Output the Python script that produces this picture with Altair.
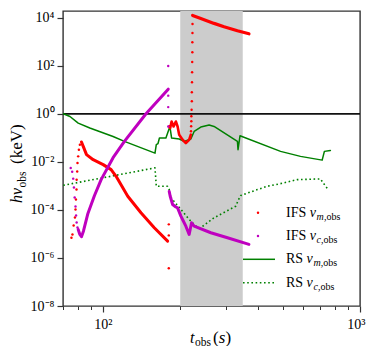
import json
import altair as alt
import pandas as pd

FONT = "Liberation Serif"
RED = "#ff0000"
MAG = "#bf00bf"
GREEN = "#008000"

# ---------------- data ----------------
band_start = [200.0]
band_end = [350.0]
unit_level = [1.0]

# RS nu_m,obs (green solid)
rs_m_t = [70.2, 74.5, 80.2, 89.0, 109.6, 121.3, 159.5, 161.4, 163.8, 166.0, 175.9, 182.3,
          185.1, 198.1, 207.2, 219.9, 226.5, 240.4, 259.0, 270.7, 333.7, 335.5, 341.5,
          491.0, 587.0, 712.6, 727.0, 767.0]
rs_m_nu = [1.0, 0.773, 0.411, 0.255, 0.114, 0.071, 0.023, 0.0518, 0.0569, 0.098, 0.098, 0.297,
           0.098, 0.0892, 0.071, 0.0892, 0.184, 0.281, 0.34, 0.297, 0.071, 0.032, 0.122,
           0.0273, 0.0169, 0.0118, 0.0273, 0.030]

# RS nu_c,obs (green dotted)
rs_c_t = [70.2, 159.5, 161.4, 178.6, 181.2, 184.0, 201.2, 216.6, 234.0, 240.4, 270.7,
          328.6, 336.6, 343.6, 399.0, 436.0, 491.0, 570.0, 702.0, 719.0, 755.0]
rs_c_nu = [1.06e-3, 5.6e-3, 9.6e-4, 9.6e-4, 7.0e-4, 3.27e-4, 1.04e-4, 4.0e-5, 1.77e-5, 1.81e-5, 4.7e-5,
           1.42e-4, 2.6e-4, 3.96e-4, 7.0e-4, 9.6e-4, 1.24e-3, 1.82e-3, 1.95e-3, 1.33e-3, 6.6e-4]

# IFS nu_m,obs (red) - densely sampled stretches
ifs_m_a_t = [82.6, 83.9, 86.4, 91.7, 100.3, 107.7, 112.6, 125.0, 140.7, 158.5, 178.6]
ifs_m_a_nu = [0.067, 0.044, 0.0199, 0.0123, 7.65e-3, 4.75e-3, 2.5e-3, 3.7e-4, 7.6e-5, 1.81e-5, 5.0e-6]
ifs_m_b_t = [181.2, 182.8, 185.1, 188.4, 192.3, 195.3, 198.1, 204.2, 210.3, 216.6, 219.9]
ifs_m_b_nu = [0.297, 0.255, 0.479, 0.297, 0.479, 0.297, 0.135, 0.0834, 0.0608, 0.0834, 0.135]
ifs_m_c_t = [223.4, 240.4, 270.7, 296.0, 333.7, 370.0]
ifs_m_c_nu = [12450, 9350, 5800, 4190, 2860, 2148]
# IFS nu_m,obs (red) - sparse samples
ifs_m_pts_t = [75.5, 76.2, 77.0, 77.9, 78.3, 78.6, 79.0, 79.1, 79.5, 79.7, 80.2, 80.7, 81.4,
               180.5, 180.5, 180.5,
               218.9, 220.2, 220.5, 220.9, 220.9, 221.4, 221.9, 221.9, 222.2, 222.4, 222.6,
               222.9, 222.9, 223.1, 223.2]
ifs_m_pts_nu = [6.95e-6, 9.5e-6, 2.25e-5, 4.84e-5, 1.04e-4, 2.7e-4, 7.0e-4, 1.8e-3, 4.0e-3, 9.0e-3,
                0.0169, 0.032, 0.0518,
                2.5e-5, 8.7e-6, 3.7e-7,
                0.098, 0.188, 0.303, 0.489, 0.787, 1.47, 3.30, 7.95, 20.7, 53.7, 144,
                363, 944, 2296, 5420]

# IFS nu_c,obs (magenta) - densely sampled stretches
ifs_c_a_t = [80.2, 81.4, 82.6, 84.1, 87.5, 92.8, 98.5, 109.6, 121.3, 147.2, 179.6]
ifs_c_a_nu = [1.54e-5, 9.5e-6, 7.65e-6, 1.33e-5, 7.1e-5, 3.96e-4, 1.82e-3, 0.0149, 0.071, 1.0, 10.6]
ifs_c_b_t = [181.2, 182.8, 186.8, 192.3, 195.3, 201.2, 204.2, 210.3, 216.6, 221.3, 226.5,
             263.0, 305.2, 370.0]
ifs_c_b_nu = [5.8e-4, 3.7e-4, 1.68e-4, 1.32e-4, 1.22e-4, 5.5e-5, 4.0e-5, 2.1e-5, 9.5e-6, 2.9e-5,
              2.1e-5, 1.12e-5, 6.95e-6, 3.67e-6]
# IFS nu_c,obs (magenta) - sparse samples
ifs_c_pts_t = [75.0, 76.0, 76.7, 77.2, 77.7, 78.3, 78.7, 79.1, 79.7,
               179.6, 179.6, 179.6, 179.6]
ifs_c_pts_nu = [5.5e-3, 3.9e-3, 2.0e-3, 8.5e-4, 3.27e-4, 1.38e-4, 5.9e-5, 3.0e-5, 1.86e-5,
                98.0, 5.7, 1.9, 0.297]

x_major = [100, 1000]
x_minor = [70, 80, 90, 200, 300, 400, 500, 600, 700, 800, 900]
x_tick_text = ["10²", "10³"]
y_major = [1e-8, 1e-6, 1e-4, 1e-2, 1, 1e2, 1e4]
y_tick_text = ["10⁻⁸", "10⁻⁶", "10⁻⁴", "10⁻²", "10⁰", "10²", "10⁴"]

legend_names = ["IFS", "IFS", "RS", "RS"]
legend_subs = ["m", "c", "m", "c"]

# ---------------- chart ----------------
W, H = 297, 295
xs = alt.Scale(type="log", domain=[70, 1000], nice=False)
ys = alt.Scale(type="log", domain=[1e-8, 1.9e4], nice=False)


def df(t, nu):
    return pd.DataFrame({"t": t, "nu": nu})


common = dict(grid=False, domain=False, title=None, tickColor="#333333", tickWidth=1.2,
              labelFont=FONT, labelColor="black", labelOverlap=False)
x_axis = alt.Axis(values=x_major, tickSize=6, labelFontSize=14, labelPadding=5, orient="bottom",
                  labelFlush=True, labelFlushOffset=5,
                  labelExpr=json.dumps(x_tick_text, ensure_ascii=False) +
                  "[round(log(datum.value)/LN10) - 2]", **common)
x_minor_axis = alt.Axis(values=x_minor, tickSize=3.5, labels=False, orient="bottom", grid=False,
                        domain=False, title=None, tickColor="#333333", tickWidth=1.0)
y_axis = alt.Axis(values=y_major, tickSize=6, labelFontSize=14, labelPadding=3, orient="left",
                  labelFlush=False,
                  labelExpr=json.dumps(y_tick_text, ensure_ascii=False) +
                  "[round((log(datum.value)/LN10 + 8) / 2)]", **common)

band = alt.Chart(pd.DataFrame({"s": band_start, "e": band_end})).mark_rect(
    color="#cccccc").encode(x=alt.X("s:Q", scale=xs, axis=None), x2="e:Q")

hline = alt.Chart(pd.DataFrame({"v": unit_level})).mark_rule(
    color="#111111", strokeWidth=1.8).encode(y=alt.Y("v:Q", scale=ys, axis=None))


def line(t, nu, color, width, dash=None, xaxis=None, yaxis=None, cap="round"):
    kw = dict(color=color, strokeWidth=width, strokeCap=cap, strokeJoin="round", clip=True)
    if dash:
        kw["strokeDash"] = dash
    return alt.Chart(df(t, nu)).mark_line(**kw).encode(
        x=alt.X("t:Q", scale=xs, axis=xaxis), y=alt.Y("nu:Q", scale=ys, axis=yaxis))


def dots(t, nu, color):
    return alt.Chart(df(t, nu)).mark_circle(color=color, size=6, opacity=1).encode(
        x=alt.X("t:Q", scale=xs, axis=None), y=alt.Y("nu:Q", scale=ys, axis=None))


rs_m = line(rs_m_t, rs_m_nu, GREEN, 1.5, xaxis=x_axis, yaxis=y_axis)
rs_c = line(rs_c_t, rs_c_nu, GREEN, 1.6, dash=[1.6, 2.6], xaxis=x_minor_axis, cap="butt")
red_a = line(ifs_m_a_t, ifs_m_a_nu, RED, 3)
red_b = line(ifs_m_b_t, ifs_m_b_nu, RED, 2.6)
red_c = line(ifs_m_c_t, ifs_m_c_nu, RED, 3.2)
red_p = dots(ifs_m_pts_t, ifs_m_pts_nu, RED)
mag_a = line(ifs_c_a_t, ifs_c_a_nu, MAG, 3)
mag_b = line(ifs_c_b_t, ifs_c_b_nu, MAG, 3)
mag_p = dots(ifs_c_pts_t, ifs_c_pts_nu, MAG)

one = pd.DataFrame({"k": [0]})


def txt(s, x, y, size, italic=False, angle=None):
    props = dict(text=s, font=FONT, fontSize=size, align="left", baseline="alphabetic",
                 color="black")
    if italic:
        props["fontStyle"] = "italic"
    if angle is not None:
        props["angle"] = angle
    return alt.Chart(one).mark_text(**props).encode(x=alt.value(x), y=alt.value(y))


extras = []
# legend
row_y = [205.7, 229.0, 252.3, 275.7]
name_w = {"IFS": 20.2, "RS": 17.1}
sub_w = {"m": 7.4, "c": 4.6}
for i, (nm, sb) in enumerate(zip(legend_names, legend_subs)):
    by = row_y[i]
    x0 = 223
    xn = x0 + name_w[nm] + 3.5
    xsb = xn + 6.8
    extras += [txt(nm, x0, by, 14), txt("ν", xn, by, 14, italic=True),
               txt(sb, xsb, by + 3, 10, italic=True), txt(",obs", xsb + sub_w[sb], by + 3, 10)]
    cy = by - 4
    if i == 0:
        extras.append(alt.Chart(one).mark_circle(color=RED, size=6, opacity=1).encode(
            x=alt.value(195), y=alt.value(cy)))
    elif i == 1:
        extras.append(alt.Chart(one).mark_circle(color=MAG, size=6, opacity=1).encode(
            x=alt.value(195), y=alt.value(cy)))
    elif i == 2:
        extras.append(alt.Chart(one).mark_rule(color=GREEN, strokeWidth=1.5).encode(
            x=alt.value(180), x2=alt.value(212), y=alt.value(cy)))
    else:
        extras.append(alt.Chart(one).mark_rule(color=GREEN, strokeWidth=1.6,
                                               strokeDash=[1.6, 2.6]).encode(
            x=alt.value(180), x2=alt.value(212), y=alt.value(cy)))

# axis titles
extras += [txt("t", 127, 332, 16, italic=True), txt("obs", 132, 334.5, 11.5),
           txt("(", 150, 332, 17), txt("s", 155.7, 332, 17, italic=True), txt(")", 162.5, 332, 17)]
extras += [txt("hν", -41, 192, 16, italic=True, angle=270),
           txt("obs", -37.5, 176.5, 11.5, angle=270),
           txt("(keV)", -41, 153, 17, angle=270)]

chart = alt.layer(band, hline, rs_m, rs_c, red_a, red_b, red_c, red_p, mag_a, mag_b, mag_p,
                  *extras).resolve_axis(x="independent", y="independent").properties(
    width=W, height=H,
    padding={"left": 55, "top": 3, "right": 6, "bottom": 40},
    autosize=alt.AutoSizeParams(type="none"),
    background="white",
).configure_view(stroke="#333333", strokeWidth=1.4)

chart.save("out.html", embed_options={"renderer": "svg", "actions": False})
